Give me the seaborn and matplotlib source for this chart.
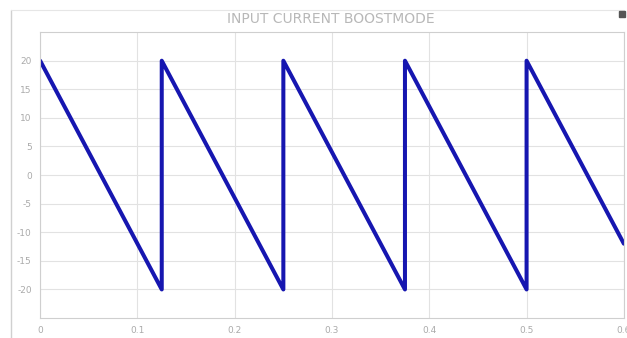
import matplotlib
matplotlib.use("Agg")
import matplotlib.pyplot as plt
import seaborn as sns
import pandas as pd
from matplotlib.lines import Line2D

# Sawtooth input current (A) vs time (s)
time_s = [0.0, 0.125, 0.125, 0.25, 0.25, 0.375, 0.375, 0.5, 0.5, 0.6]
current_a = [20, -20, 20, -20, 20, -20, 20, -20, 20, -12]
x_ticks = [0, 0.1, 0.2, 0.3, 0.4, 0.5, 0.6]
x_tick_labels = ["0", "0.1", "0.2", "0.3", "0.4", "0.5", "0.6"]
y_ticks = [20, 15, 10, 5, 0, -5, -10, -15, -20]

sns.set_theme(style="whitegrid")
plt.rcParams["font.family"] = ["DejaVu Sans"]
plt.rcParams["axes.unicode_minus"] = False

fig = plt.figure(figsize=(6.27, 3.38), dpi=100)
ax = fig.add_axes([0.064, 0.059, 0.931, 0.846])

df = pd.DataFrame({"t": time_s, "i": current_a})
sns.lineplot(data=df, x="t", y="i", ax=ax, sort=False, estimator=None,
             color="#1616b0", linewidth=2.9)

ax.set_xlim(0, 0.6)
ax.set_ylim(-25, 25)
ax.set_xticks(x_ticks)
ax.set_xticklabels(x_tick_labels)
ax.set_yticks(y_ticks)
ax.set_xlabel("")
ax.set_ylabel("")
ax.tick_params(axis="both", labelsize=6.5, colors="#aaaaaa", length=0, pad=6)
ax.grid(True, color="#e2e2e2", linewidth=0.8)
for s in ax.spines.values():
    s.set_color("#cfcfcf")
    s.set_linewidth(0.8)

fig.text(0.528, 0.945, "INPUT CURRENT BOOSTMODE", ha="center", va="center",
         fontsize=10, color="#b8b8b8")

# thin frame lines of the panel
fig.add_artist(Line2D([0.018, 0.018], [0.0, 0.97], transform=fig.transFigure,
                      color="#d0d0d0", linewidth=1.0))
fig.add_artist(Line2D([0.018, 0.995], [0.97, 0.97], transform=fig.transFigure,
                      color="#e6e6e6", linewidth=0.8))
# small window-control glyph in the top-right corner
fig.add_artist(Line2D([0.992], [0.958], transform=fig.transFigure, marker="s",
                      markersize=4, color="#555555", linestyle="none"))

fig.savefig("out.png", dpi=100, facecolor="white")
